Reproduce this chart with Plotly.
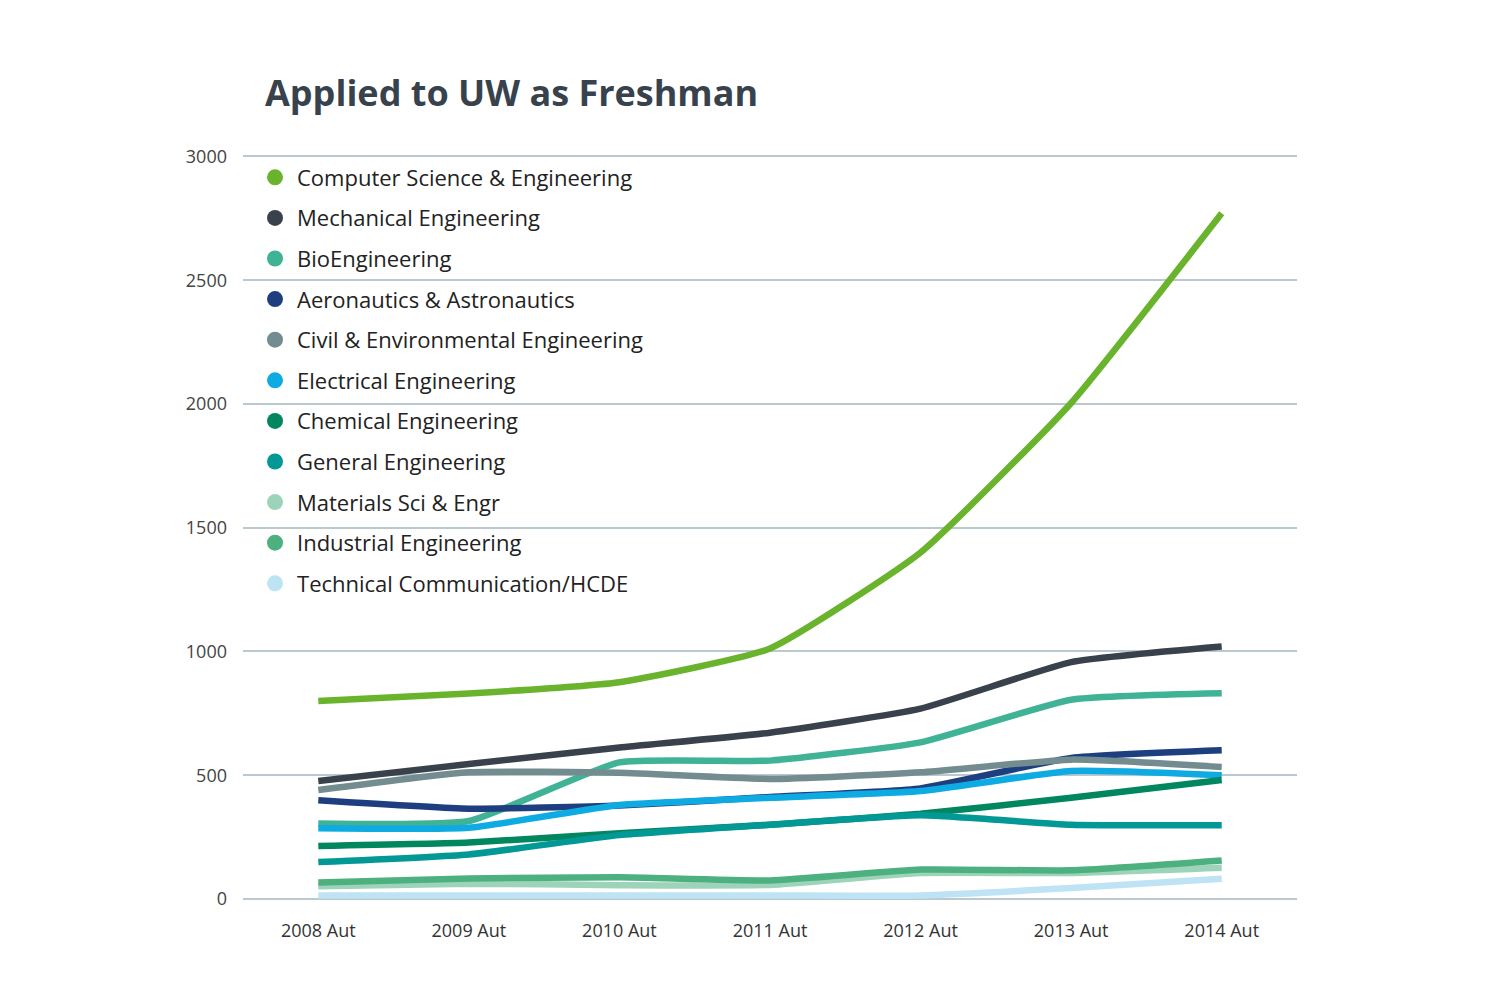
import plotly.graph_objects as go

terms = ["2008 Aut", "2009 Aut", "2010 Aut", "2011 Aut", "2012 Aut", "2013 Aut", "2014 Aut"]

cse = [800, 830, 876, 1012, 1400, 2004, 2770]
mech = [477, 545, 612, 672, 769, 957, 1020]
bio = [305, 315, 552, 559, 633, 805, 831]
aero = [399, 365, 378, 412, 447, 570, 601]
civil = [440, 512, 510, 485, 512, 563, 533]
elec = [286, 288, 380, 409, 436, 517, 500]
chem = [214, 228, 266, 300, 344, 409, 481]
general = [149, 180, 258, 300, 338, 300, 298]
materials = [52, 62, 56, 57, 105, 105, 126]
industrial = [67, 83, 88, 75, 119, 116, 156]
techcomm = [14, 14, 14, 14, 14, 44, 82]

names = ["Computer Science & Engineering", "Mechanical Engineering", "BioEngineering",
         "Aeronautics & Astronautics", "Civil & Environmental Engineering",
         "Electrical Engineering", "Chemical Engineering", "General Engineering",
         "Materials Sci & Engr", "Industrial Engineering", "Technical Communication/HCDE"]
series = [cse, mech, bio, aero, civil, elec, chem, general, materials, industrial, techcomm]
colors = ["#6ab42d", "#39424c", "#40b396", "#1d3f80", "#738c90", "#0eaae2",
          "#00875f", "#029896", "#9dd4b9", "#4db07f", "#bde3f4"]

fig = go.Figure()
for name, vals, col in zip(names, series, colors):
    fig.add_trace(go.Scatter(
        x=terms, y=vals, mode="lines", name=name, showlegend=False,
        line=dict(color=col, width=6.5, shape="spline", smoothing=0.45),
        hoverinfo="x+y+name",
    ))
# legend entries shown as dots
for name, col in zip(names, colors):
    fig.add_trace(go.Scatter(
        x=[None], y=[None], mode="markers", name=name, legendgroup=name,
        marker=dict(color=col, size=19, symbol="circle"),
    ))

# page body adds an 8px offset, margins account for it
# y range goes a bit past 3000 so the top gridline is drawn
fig.update_layout(
    width=1500, height=1000,
    paper_bgcolor="white", plot_bgcolor="white",
    font=dict(family="Open Sans", color="#333333"),
    margin=dict(l=235, r=211, t=141, b=109),
    title=dict(text="<b>Applied to UW as Freshman</b>", x=257 / 1500, xanchor="left",
               y=1 - 85 / 1000, yanchor="middle",
               font=dict(family="Open Sans", size=36, color="#37424d")),
    legend=dict(x=0.0095, y=0.99, xanchor="left", yanchor="top", tracegroupgap=9,
                itemwidth=34,
                bgcolor="rgba(0,0,0,0)", font=dict(family="Open Sans", size=22, color="#222222")),
    showlegend=True,
)
fig.update_xaxes(type="category", range=[-0.5, 6.5], showgrid=False, showline=False,
                 ticks="", tickfont=dict(size=18, color="#333333"), ticklabelstandoff=19)
fig.update_yaxes(range=[0, 3030], tickvals=[0, 500, 1000, 1500, 2000, 2500, 3000],
                 showgrid=True, gridcolor="#b9c9cf", gridwidth=2,
                 zeroline=True, zerolinecolor="#b9c9cf", zerolinewidth=2, showline=False,
                 ticks="", tickfont=dict(size=18, color="#444444"), ticklabelstandoff=15)

fig.write_html("out.html")
